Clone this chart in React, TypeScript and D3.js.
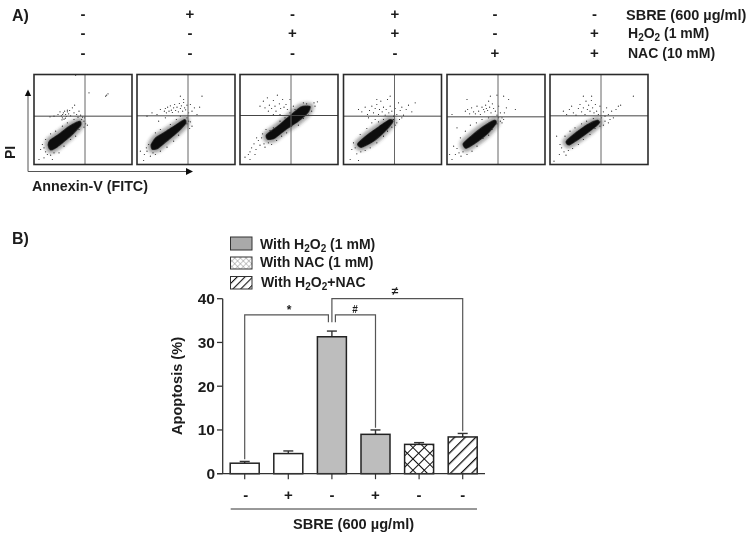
import React from "react";
import * as d3 from "d3";

// ---- Panel A: sign table
const signColumns = [83, 190, 292.5, 395, 495, 594.5];
const sbreSigns = ["-", "+", "-", "+", "-", "-"];
const h2o2Signs = ["-", "-", "+", "+", "-", "+"];
const nacSigns = ["-", "-", "-", "-", "+", "+"];

// ---- Panel A: flow cytometry panels, read in a 294x270 read-off grid
const panelLefts = [34, 137, 240, 343.5, 447, 550];
const gateX = [51, 51, 51, 51, 51, 51];
const gateY = [145, 146, 147, 145, 143, 146];

const cloud1 = [[43,59],[48,72],[73,89],[103,112],[128,126],[138,129],[140,119],[118,94],[93,72],[68,52],[50,44]];
const cloud2 = [[43,59],[56,79],[88,99],[118,119],[143,134],[146,124],[123,99],[93,74],[63,49],[46,46]];
const cloud3 = [[80,89],[113,114],[148,144],[183,172],[210,174],[203,156],[173,129],[138,106],[103,79],[83,76]];
const cloud4 = [[43,62],[73,89],[108,114],[138,134],[148,129],[123,99],[88,69],[53,52]];
const cloud5 = [[49,62],[72,84],[107,112],[142,132],[147,124],[122,94],[87,66],[57,49]];
const cloud6 = [[49,69],[77,94],[112,119],[142,132],[147,124],[117,99],[82,74],[57,59]];

const dots1 = [[72,150],[78,158],[82,146],[85,140],[88,155],[90,136],[92,160],[95,150],[97,144],[100,158],[104,152],[107,162],[110,146],[115,170],[120,155],[122,178],[128,150],[132,142],[135,160],[140,148],[60,145],[48,143],[86,150],[84,134],[94,139],[100,163],[143,135],[150,130],[152,140],[146,142],[155,122],[160,118],[150,112],[215,205],[222,212],[218,208],[165,215],[125,268],[30,50],[35,38],[25,60],[40,30],[50,28],[20,45],[60,35],[75,35],[90,55],[110,75],[125,85],[135,105],[35,75],[50,92],[65,100],[85,115],[100,125],[120,135],[15,15],[55,15],[30,20],[45,50]];
const dots2 = [[82,160],[85,168],[88,155],[92,172],[96,160],[100,176],[103,163],[106,156],[110,170],[113,180],[116,162],[120,172],[124,158],[127,183],[130,168],[133,176],[137,160],[140,186],[143,170],[146,164],[150,178],[155,155],[160,180],[165,160],[172,170],[180,150],[188,172],[195,205],[130,205],[140,195],[70,165],[60,150],[45,155],[30,145],[150,140],[155,130],[160,128],[150,122],[165,115],[158,108],[30,40],[22,30],[35,60],[28,50],[40,25],[55,30],[48,35],[70,40],[90,52],[110,70],[125,88],[55,95],[70,105],[100,120],[118,135],[20,12],[10,40],[65,130],[85,140],[130,145]];
const dots3 = [[70,190],[75,170],[82,200],[88,178],[95,168],[100,192],[105,175],[108,160],[112,208],[118,182],[122,168],[128,195],[132,172],[138,180],[142,165],[85,160],[60,175],[150,195],[100,150],[120,150],[35,50],[42,62],[48,45],[55,72],[60,58],[65,80],[72,62],[50,80],[75,52],[45,30],[30,38],[25,30],[68,92],[85,65],[95,60],[110,72],[125,85],[140,95],[155,115],[175,118],[190,138],[205,148],[215,160],[225,175],[232,188],[222,185],[150,155],[135,140],[120,130],[100,110],[90,102],[78,105],[170,150],[200,182],[190,185],[160,175],[165,165],[30,15],[15,22]];
const dots4 = [[45,165],[55,158],[65,172],[72,150],[78,162],[85,175],[90,155],[95,168],[100,180],[105,150],[108,165],[112,190],[116,158],[120,172],[125,148],[128,165],[132,195],[136,155],[140,175],[145,160],[150,145],[155,168],[160,150],[165,185],[170,162],[175,172],[180,148],[188,165],[195,178],[205,158],[215,185],[140,205],[100,195],[75,140],[85,125],[95,135],[105,128],[120,135],[150,135],[160,125],[168,135],[175,140],[35,50],[25,45],[30,65],[40,32],[52,38],[65,42],[80,50],[100,65],[120,85],[132,100],[145,112],[155,118],[50,90],[70,108],[20,15],[45,12],[90,100],[110,115]];
const dots5 = [[55,160],[62,165],[68,152],[74,170],[80,158],[85,152],[90,175],[95,160],[100,150],[105,172],[110,165],[113,158],[116,178],[118,168],[122,162],[125,190],[128,172],[132,155],[136,182],[140,168],[145,160],[150,148],[155,175],[160,155],[165,140],[172,155],[178,170],[185,195],[170,205],[205,165],[150,208],[130,205],[60,195],[160,130],[165,125],[170,135],[155,140],[150,122],[30,48],[20,55],[36,35],[25,30],[42,25],[15,15],[8,30],[48,38],[60,30],[75,40],[90,55],[108,78],[125,88],[135,105],[40,80],[55,100],[70,118],[88,125],[105,135],[125,140],[30,110],[15,150]];
const dots6 = [[40,160],[50,150],[58,165],[65,175],[70,155],[78,148],[85,168],[90,180],[95,158],[100,170],[105,150],[108,190],[112,165],[116,178],[120,160],[124,192],[128,170],[132,155],[136,180],[140,160],[145,150],[150,175],[155,140],[160,158],[165,145],[170,170],[175,150],[180,135],[185,160],[190,140],[198,165],[205,175],[212,178],[250,205],[125,205],[100,205],[150,128],[165,130],[175,125],[160,118],[35,50],[42,38],[30,60],[48,28],[55,42],[28,30],[12,10],[68,48],[85,60],[100,75],[120,90],[135,108],[150,115],[45,85],[60,100],[75,110],[95,122],[110,130],[20,85],[130,138]];

const clouds = [cloud1, cloud2, cloud3, cloud4, cloud5, cloud6];
const dotSets = [dots1, dots2, dots3, dots4, dots5, dots6];

// ---- Panel B: bars
const barIds = ["a", "b", "c", "d", "e", "f"];
const barValues = [2.4, 4.6, 31.3, 9.0, 6.7, 8.4];
const barErrors = [0.4, 0.6, 1.3, 1.0, 0.4, 0.8];
const barSigns = ["-", "+", "-", "+", "-", "-"];
const barFills = ["#fff", "#fff", "#bdbdbd", "#bdbdbd", "url(#cross)", "url(#diag)"];
const yTicks = [0, 10, 20, 30, 40];

const legendLabels = [
  ["With H", "2", "O", "2", " (1 mM)"],
  ["With NAC (1 mM)"],
  ["With H", "2", "O", "2", "+NAC"],
];
const legendFills = ["#a9a9a9", "url(#crossLight)", "url(#diagLegend)"];

const W = 756;
const H = 542;
const FONT = "'Liberation Sans', Arial, sans-serif";
const INK = "#1c1c1c";

const y = d3.scaleLinear().domain([0, 40]).range([473.7, 298.7]);
const x = d3.scaleBand().domain(barIds).range([222.9, 484.5]).paddingInner(0.335).paddingOuter(0.1675);
const cx = (id: string) => (x(id) as number) + x.bandwidth() / 2;

const px = d3.scaleLinear().domain([0, 294]).range([0, 98]);
const py = d3.scaleLinear().domain([0, 270]).range([90, 0]);
const cloudLine = d3.line<number[]>().x((d) => px(d[0])).y((d) => py(d[1])).curve(d3.curveCardinalClosed.tension(0.4));

function Sub({ children }: { children: string }) {
  return <tspan dy={3} fontSize={10}>{children}</tspan>;
}

function Signs({ row, yPos }: { row: string[]; yPos: number }) {
  return (
    <>
      {row.map((s, i) => (
        <text key={i} x={signColumns[i]} y={yPos} textAnchor="middle" fontSize={15} fontWeight="bold" fill={INK}>{s}</text>
      ))}
    </>
  );
}

function Panel({ i }: { i: number }) {
  const d = cloudLine(clouds[i]) as string;
  return (
    <g transform={`translate(${panelLefts[i]},74.5)`}>
      <rect width={98} height={90} fill="#fff" />
      <path d={d} fill="#333" fillOpacity={0.4} stroke="#333" strokeOpacity={0.4} strokeWidth={8} strokeLinejoin="round" filter="url(#halo)" />
      <path d={d} fill="#0c0c0c" stroke="#111" strokeOpacity={0.8} strokeWidth={1.5} strokeLinejoin="round" filter="url(#soft)" />
      {dotSets[i].map((p, k) => (
        <circle key={k} cx={px(p[0])} cy={py(p[1])} r={0.55} fill="#111" />
      ))}
      <line x1={gateX[i]} x2={gateX[i]} y1={0} y2={90} stroke="#666" strokeWidth={1} />
      <line x1={0} x2={98} y1={py(gateY[i])} y2={py(gateY[i])} stroke="#444" strokeWidth={1} />
      <rect width={98} height={90} fill="none" stroke="#2a2a2a" strokeWidth={1.6} />
    </g>
  );
}

function szTop(v: number, e: number) {
  return v + e + 0.5;
}

export default function App() {
  const bracketColor = "#555";
  const bracketTop = 36.3;
  const stem = 34.6;
  return (
    <svg width={W} height={H} viewBox={`0 0 ${W} ${H}`} style={{ position: "absolute", left: 0, top: 0, background: "#fff" }} fontFamily={FONT}>
      <defs>
        <filter id="soft" x="-20%" y="-20%" width="140%" height="140%"><feGaussianBlur stdDeviation="0.7" /></filter>
        <filter id="halo" x="-40%" y="-40%" width="180%" height="180%"><feGaussianBlur stdDeviation="1.6" /></filter>
        <filter id="all" x="0" y="0" width="100%" height="100%"><feGaussianBlur stdDeviation="0.35" /></filter>
        <pattern id="cross" width="8" height="8" patternUnits="userSpaceOnUse" patternTransform="rotate(45)">
          <rect width="8" height="8" fill="#fff" />
          <path d="M0 0H8M0 0V8" stroke="#111" strokeWidth="2" />
        </pattern>
        <pattern id="crossLight" width="4" height="4" patternUnits="userSpaceOnUse" patternTransform="rotate(45)">
          <rect width="4" height="4" fill="#fff" />
          <path d="M0 0H4M0 0V4" stroke="#777" strokeWidth="0.8" />
        </pattern>
        <pattern id="diag" width="7.5" height="7.5" patternUnits="userSpaceOnUse" patternTransform="rotate(45)">
          <rect width="7.5" height="7.5" fill="#fff" />
          <path d="M0 0V7.5" stroke="#111" strokeWidth="2.6" />
        </pattern>
        <pattern id="diagLegend" width="5.5" height="5.5" patternUnits="userSpaceOnUse" patternTransform="rotate(45)">
          <rect width="5.5" height="5.5" fill="#fff" />
          <path d="M0 0V5.5" stroke="#111" strokeWidth="2.2" />
        </pattern>
      </defs>
      <g filter="url(#all)">
        <text x={12} y={21} fontSize={16} fontWeight="bold" fill={INK}>A)</text>
        <Signs row={sbreSigns} yPos={18.5} />
        <Signs row={h2o2Signs} yPos={37.5} />
        <Signs row={nacSigns} yPos={57.5} />
        <text x={626} y={19.5} fontSize={14.5} fontWeight="bold" fill={INK}>SBRE (600 µg/ml)</text>
        <text x={628} y={37.5} fontSize={14} fontWeight="bold" fill={INK}>H<Sub>2</Sub><tspan dy={-3}>O</tspan><Sub>2</Sub><tspan dy={-3}> (1 mM)</tspan></text>
        <text x={628} y={58} fontSize={14} fontWeight="bold" fill={INK}>NAC (10 mM)</text>

        {panelLefts.map((_, i) => <Panel key={i} i={i} />)}

        <path d="M28 92V171.5H188" fill="none" stroke="#555" strokeWidth={1} />
        <path d="M28 89.5L24.8 96H31.2Z" fill="#111" />
        <path d="M193 171.5L186 168V175Z" fill="#111" />
        <text transform="translate(15,152.5) rotate(-90)" textAnchor="middle" fontSize={14} fontWeight="bold" fill={INK}>PI</text>
        <text x={32} y={191} fontSize={14.3} fontWeight="bold" fill={INK}>Annexin-V (FITC)</text>

        <text x={12} y={244} fontSize={16} fontWeight="bold" fill={INK}>B)</text>

        {legendFills.map((f, i) => (
          <rect key={i} x={230.5} y={[237, 257, 276.5][i]} width={21.5} height={[13, 12, 12.5][i]} fill={f} stroke="#333" strokeWidth={1} />
        ))}
        {legendLabels.map((parts, i) => (
          <text key={i} x={[260, 260, 261][i]} y={[249, 267, 287][i]} fontSize={14} fontWeight="bold" fill={INK}>
            {parts.length === 1 ? parts[0] : (
              <>
                {parts[0]}<Sub>{parts[1]}</Sub><tspan dy={-3}>{parts[2]}</tspan><Sub>{parts[3]}</Sub><tspan dy={-3}>{parts[4]}</tspan>
              </>
            )}
          </text>
        ))}

        {/* bars */}
        {barIds.map((id, i) => {
          const c = cx(id);
          const top = y(barValues[i] + barErrors[i]);
          return (
            <g key={id}>
              <line x1={c} x2={c} y1={y(barValues[i])} y2={top} stroke="#333" strokeWidth={1.4} />
              <line x1={c - 5} x2={c + 5} y1={top} y2={top} stroke="#333" strokeWidth={1.4} />
              <rect x={x(id)} y={y(barValues[i])} width={x.bandwidth()} height={y(0) - y(barValues[i])} fill={barFills[i]} stroke="#222" strokeWidth={1.5} />
              <line x1={c} x2={c} y1={y(0)} y2={y(0) + 5.5} stroke="#333" strokeWidth={1.2} />
              <text x={c + (i === 0 ? 1 : 0)} y={500} textAnchor="middle" fontSize={15} fontWeight="bold" fill={INK}>{barSigns[i]}</text>
            </g>
          );
        })}

        {/* y axis */}
        <line x1={222.7} x2={222.7} y1={y(40)} y2={y(0)} stroke="#333" strokeWidth={1.3} />
        <line x1={217} x2={485} y1={y(0)} y2={y(0)} stroke="#333" strokeWidth={1.3} />
        {yTicks.map((t) => (
          <g key={t}>
            <line x1={217} x2={222.7} y1={y(t)} y2={y(t)} stroke="#333" strokeWidth={1.3} />
            <text x={215} y={y(t) + 5.5} textAnchor="end" fontSize={15.5} fontWeight="bold" fill={INK}>{t}</text>
          </g>
        ))}
        <text transform="translate(182,386) rotate(-90)" textAnchor="middle" fontSize={14.6} fontWeight="bold" fill={INK}>Apoptosis (%)</text>

        {/* brackets */}
        <path d={`M${cx("a")} ${y(szTop(barValues[0], barErrors[0]))}V${y(bracketTop)}H${cx("c") - 3.5}V${y(stem)}`} fill="none" stroke={bracketColor} strokeWidth={1.2} />
        <path d={`M${cx("c") + 3.5} ${y(stem)}V${y(bracketTop)}H${cx("d")}V${y(szTop(barValues[3], barErrors[3]))}`} fill="none" stroke={bracketColor} strokeWidth={1.2} />
        <path d={`M${cx("c")} ${y(stem)}V${y(40)}H${cx("f")}V${y(szTop(barValues[5], barErrors[5]))}`} fill="none" stroke={bracketColor} strokeWidth={1.2} />
        <text x={289} y={y(bracketTop) - 1} textAnchor="middle" fontSize={12} fontWeight="bold" fill={INK}>*</text>
        <text x={355} y={y(bracketTop) - 2} textAnchor="middle" fontSize={10} fontWeight="bold" fill={INK}>#</text>
        <text x={395} y={y(40) - 4} textAnchor="middle" fontSize={12} fontWeight="bold" fill={INK}>≠</text>

        <line x1={230.7} x2={477} y1={509} y2={509} stroke="#333" strokeWidth={1} />
        <text x={353.5} y={529} textAnchor="middle" fontSize={14.6} fontWeight="bold" fill={INK}>SBRE (600 µg/ml)</text>
      </g>
    </svg>
  );
}
